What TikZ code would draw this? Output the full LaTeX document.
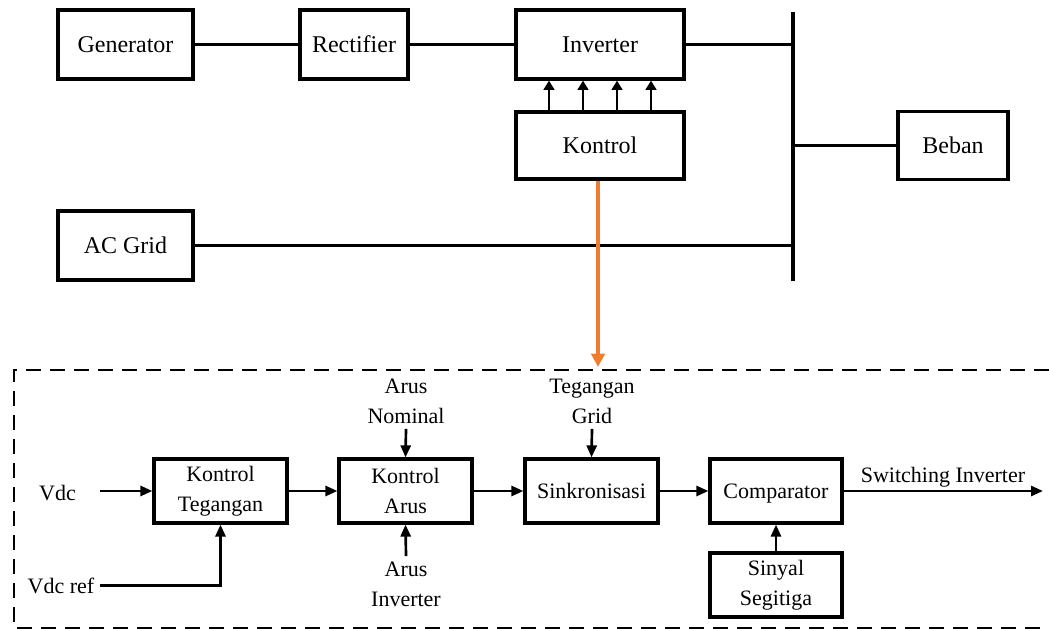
\documentclass[tikz,border=0pt]{standalone}
\usepackage{fontspec}
\setmainfont{Liberation Serif}
\usetikzlibrary{arrows.meta,calc}
\definecolor{arrorange}{HTML}{ED7D31}
\begin{document}
\begin{tikzpicture}[x=0.75pt,y=-0.75pt,
  blk/.style 2 args={draw,line width=2.4pt,minimum width=#1,minimum height=#2,inner sep=0pt,align=center},
  topfont/.style={font=\fontsize{18}{22}\selectfont},
  botfont/.style={font=\fontsize{16.5}{22.5}\selectfont},
  lbl/.style={botfont,align=center,inner sep=4pt},
  conn/.style={line width=1.8pt},
  busline/.style={line width=3.6pt},
  arr/.style={line width=2pt,-{Triangle[length=9pt,width=7.5pt]}},
  uparr/.style={line width=2.2pt,-{Triangle[length=7pt,width=8pt]}},
  orarr/.style={draw=arrorange,line width=3.2pt,-{Triangle[length=10pt,width=10pt]},arrorange},
  dbox/.style={line width=2pt,dash pattern=on 11pt off 7pt}
]
\useasboundingbox (0,0) rectangle (1049,630);

% ---------- upper system ----------
\node[blk={101.25pt}{51.75pt},topfont] (gen) at (125.5,44.5) {Generator};
\node[blk={81pt}{51.75pt},topfont] (rect) at (354,44.5) {Rectifier};
\node[blk={126pt}{51.75pt},topfont] (inv) at (600,44.5) {Inverter};
\node[blk={126pt}{50.25pt},topfont] (kon) at (600,145.5) {Kontrol};
\node[blk={82.5pt}{51pt},topfont] (beban) at (953,145.5) {Beban};
\node[blk={101.25pt}{51.75pt},topfont] (acg) at (125.5,245.5) {AC Grid};

\coordinate (bustop) at (793,12);
\coordinate (busbot) at (793,281);
\draw[busline] (bustop) -- (busbot);

\draw[conn] (gen.east) -- (rect.west);
\draw[conn] (rect.east) -- (inv.west);
\draw[conn] (inv.east) -- (inv.east -| bustop);
\draw[conn] (beban.west) -- (beban.west -| bustop);
\draw[conn] (acg.east) -- (acg.east -| bustop);

\foreach \dx in {-51,-17,17,51}
  \draw[uparr] ($(kon.north)+(\dx,0)$) -- ($(inv.south)+(\dx,0)$);

\coordinate (otip) at (598,367);
\draw[orarr] (kon.south -| otip) -- (otip);

% ---------- control block diagram ----------
\draw[dbox] (1049,370) -- (14,370) -- (14,628) -- (1049,628);

\node[blk={99.75pt}{48pt},botfont] (kt) at (220.5,491) {Kontrol\\Tegangan};
\node[blk={99.75pt}{48pt},botfont] (ka) at (405.5,491) {Kontrol\\Arus};
\node[blk={99.75pt}{48pt},botfont,text depth=0pt] (sink) at (591.5,491) {Sinkronisasi};
\node[blk={99pt}{48pt},botfont,text depth=0pt] (comp) at (776,491) {Comparator};
\node[blk={99pt}{48pt},botfont] (sinyal) at (776,585) {Sinyal\\Segitiga};

\node[lbl,anchor=base] (vdc) at (57.5,500) {Vdc};
\node[lbl,anchor=base] (vref) at (61,593) {Vdc ref};
\node[lbl] (an) at (406,401) {Arus\\Nominal};
\node[lbl] (ai) at (406,584) {Arus\\Inverter};
\node[lbl] (tg) at (592,401) {Tegangan\\Grid};
\node[lbl,anchor=base] (sw) at (943,483) {Switching Inverter};

\coordinate (vdcin) at (100,491);
\coordinate (out) at (1043,491);

\draw[arr] (vdcin) -- (kt.west);
\draw[arr] (vref.east) -| (kt.south);
\draw[arr] (kt.east) -- (ka.west);
\draw[arr] (an.south) -- (ka.north);
\draw[arr] (ai.north) -- (ka.south);
\draw[arr] (ka.east) -- (sink.west);
\draw[arr] (tg.south) -- (sink.north);
\draw[arr] (sink.east) -- (comp.west);
\draw[arr] (sinyal.north) -- (comp.south);
\draw[arr] (comp.east) -- (out);
\end{tikzpicture}
\end{document}
